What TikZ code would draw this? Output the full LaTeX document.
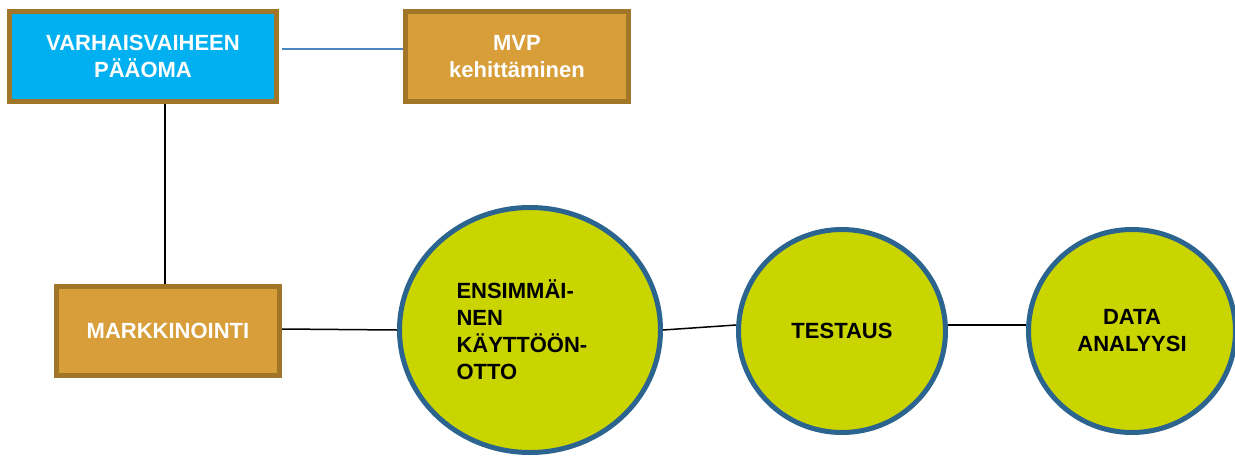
\documentclass[tikz,border=0pt]{standalone}
\usepackage{fontspec}
\setmainfont{Liberation Sans}
\usetikzlibrary{shapes.geometric}
\definecolor{skyfill}{HTML}{00B0F0}
\definecolor{boxedge}{HTML}{A27628}
\definecolor{orangefill}{HTML}{D89E3A}
\definecolor{limefill}{HTML}{CAD500}
\definecolor{ringedge}{HTML}{2C6490}
\definecolor{linkblue}{HTML}{4A86C0}
\tikzset{
  boxnode/.style={rectangle, draw=boxedge, line width=5pt, text=white,
    font=\fontsize{22}{26.7}\selectfont\bfseries, align=center, inner sep=0pt},
  ringnode/.style={ellipse, draw=ringedge, line width=5pt, fill=limefill, text=black,
    font=\fontsize{22}{27}\selectfont\bfseries, inner sep=0pt},
  link/.style={draw=black, line width=1.5pt},
  bluelink/.style={draw=linkblue, line width=1.5pt}
}
\begin{document}
\begin{tikzpicture}[x=1pt,y=-1pt]
\useasboundingbox (0,0) rectangle (1235,456);
\node[boxnode, fill=skyfill, minimum width=267pt, minimum height=90pt] (v) at (143,56.5) {VARHAISVAIHEEN\\PÄÄOMA};
\node[boxnode, fill=orangefill, minimum width=223pt, minimum height=90pt] (m) at (517,56.5) {MVP\\kehittäminen};
\node[boxnode, fill=orangefill, minimum width=223pt, minimum height=89pt] (mk) at (168,331) {MARKKINOINTI};
\node[ringnode, minimum width=261pt, minimum height=245pt, text width=147pt, align=left] (c1) at (530,330) {ENSIMMÄI-\\NEN\\KÄYTTÖÖN-\\OTTO};
\node[ringnode, minimum width=207pt, minimum height=203pt, align=center] (c2) at (842,331) {TESTAUS};
\node[ringnode, minimum width=207pt, minimum height=203pt, align=center] (c3) at (1132,331) {DATA\\ANALYYSI};
\draw[bluelink] ([shift={(3pt,7.5pt)}]v.east) -- ([yshift=7.5pt]m.west);
\draw[link] ([xshift=22pt]v.south) -- ([xshift=-3pt]mk.north);
\draw[link] ([yshift=2pt]mk.east) -- (c1.west);
\draw[link] (c1.east) -- ([yshift=6pt]c2.west);
\draw[link] ([yshift=6pt]c2.east) -- ([yshift=6pt]c3.west);
\end{tikzpicture}
\end{document}
